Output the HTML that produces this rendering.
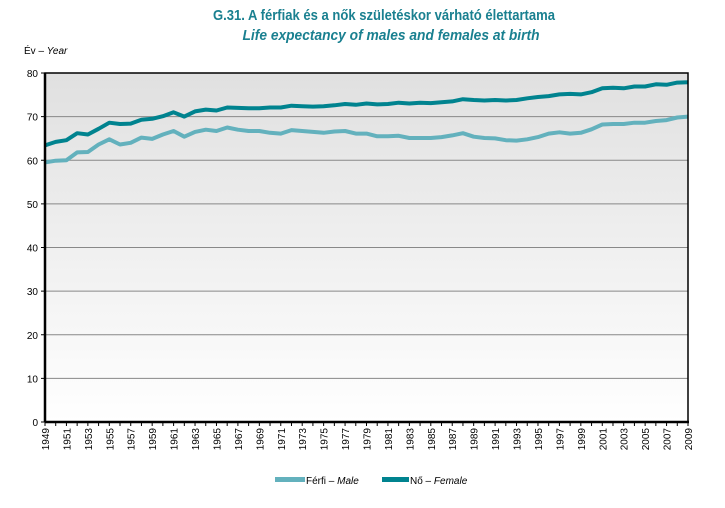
<!DOCTYPE html>
<html><head><meta charset="utf-8"><style>
html,body{margin:0;padding:0;background:#fff;}
svg{display:block;font-family:"Liberation Sans",sans-serif;}
</style></head><body>
<svg id="chart" width="725" height="508" viewBox="0 0 725 508">
<defs>
<linearGradient id="bg" x1="0" y1="0" x2="0" y2="1">
<stop offset="0" stop-color="#e0e0e0"/><stop offset="1" stop-color="#ffffff"/>
</linearGradient>
</defs>
<text x="384" y="20" text-anchor="middle" font-size="15" font-weight="bold" fill="#1a8090" textLength="342" lengthAdjust="spacingAndGlyphs">G.31. A férfiak és a nők születéskor várható élettartama</text>
<text x="391" y="40" text-anchor="middle" font-size="15" font-weight="bold" font-style="italic" fill="#1a8090" textLength="297" lengthAdjust="spacingAndGlyphs">Life expectancy of males and females at birth</text>
<text x="24" y="54" font-size="10" fill="#000">Év – <tspan font-style="italic">Year</tspan></text>
<rect x="45" y="73" width="643" height="349" fill="url(#bg)"/>
<g id="grid"></g>
<g id="lines"></g>
<g id="axes"></g>
<g>
<rect x="275" y="477" width="30" height="5" fill="#63b1bd"/>
<text x="306" y="484" font-size="10">Férfi – <tspan font-style="italic">Male</tspan></text>
<rect x="382" y="477" width="27" height="5" fill="#00838f"/>
<text x="410" y="484" font-size="10">Nő – <tspan font-style="italic">Female</tspan></text>
</g>
</svg>
<script>
const years=[];for(let y=1949;y<=2009;y++)years.push(y);
const yTicks=[0,10,20,30,40,50,60,70,80];
const female=[63.4,64.2,64.6,66.2,65.9,67.2,68.6,68.3,68.4,69.3,69.5,70.1,71.0,70.0,71.2,71.6,71.4,72.1,72.0,71.9,71.9,72.1,72.1,72.5,72.4,72.3,72.4,72.6,72.9,72.7,73.0,72.8,72.9,73.2,73.0,73.2,73.1,73.3,73.5,74.0,73.8,73.7,73.8,73.7,73.8,74.2,74.5,74.7,75.1,75.2,75.1,75.6,76.5,76.6,76.5,76.9,76.9,77.4,77.3,77.8,77.9];
const male=[59.5,59.9,60.0,61.8,61.9,63.6,64.8,63.6,64.0,65.2,64.9,65.9,66.7,65.4,66.5,67.0,66.7,67.5,67.0,66.7,66.7,66.3,66.1,66.9,66.7,66.5,66.3,66.6,66.7,66.1,66.1,65.5,65.5,65.6,65.1,65.1,65.1,65.3,65.7,66.2,65.4,65.1,65.0,64.6,64.5,64.8,65.3,66.1,66.4,66.1,66.3,67.1,68.2,68.3,68.3,68.6,68.6,69.0,69.2,69.8,70.0];
const X0=45,X1=688,Y0=422,Y1=73;
const xS=y=>X0+(y-1949)/(2009-1949)*(X1-X0);
const yS=v=>Y0-(v/80)*(Y0-Y1);
const NS="http://www.w3.org/2000/svg";
function mk(t,a,p){const e=document.createElementNS(NS,t);for(const k in a)e.setAttribute(k,a[k]);p.appendChild(e);return e;}
const grid=document.getElementById('grid'),axes=document.getElementById('axes'),lines=document.getElementById('lines');
yTicks.forEach(v=>{
 if(v>0&&v<80){const g=mk('line',{x1:X0,x2:X1,y1:yS(v),y2:yS(v),stroke:'#888','stroke-width':1},grid);
 }
 const t=mk('text',{x:X0-7,y:yS(v)+4,'text-anchor':'end','font-size':10},axes);t.textContent=v;
 
 const tk=mk('line',{x1:X0-4,x2:X0,y1:yS(v),y2:yS(v),stroke:'#000','stroke-width':1},axes);
 
});
function series(d,c,n){const p=mk('path',{d:d.map((v,i)=>(i?'L':'M')+xS(years[i]).toFixed(1)+','+yS(v).toFixed(1)).join(''),fill:'none',stroke:c,'stroke-width':4,'stroke-linejoin':'round'},lines);
 }
series(male,'#63b1bd','male-line');
series(female,'#00838f','female-line');
const fr=mk('path',{d:`M${X0},${Y0}V${Y1}H${X1}V${Y0}`,fill:'none',stroke:'#000','stroke-width':1.5},axes);

const xa=mk('line',{x1:X0,x2:X1+1,y1:Y0,y2:Y0,stroke:'#000','stroke-width':2.5},axes);

const ya=mk('line',{x1:X0,x2:X0,y1:Y1,y2:Y0,stroke:'#000','stroke-width':2.5},axes);

years.forEach((y,i)=>{
 const tk=mk('line',{x1:xS(y),x2:xS(y),y1:Y0,y2:Y0+4,stroke:'#000','stroke-width':1},axes);
 
 if(i%2===0){const x=xS(y)+4,yy=Y0+6;
  const t=mk('text',{x:x,y:yy,'text-anchor':'end','font-size':10,transform:`rotate(-90 ${x} ${yy})`},axes);t.textContent=y;
  }
});
</script>
</body></html>
